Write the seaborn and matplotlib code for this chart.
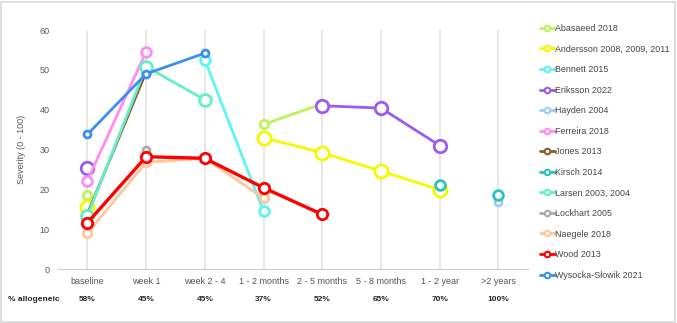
import numpy as np
import pandas as pd
import matplotlib
matplotlib.use("Agg")
import matplotlib.pyplot as plt
from matplotlib.lines import Line2D
from matplotlib.patches import Rectangle
import seaborn as sns

# categories along the x axis
timepoints = ["baseline", "week 1", "week 2 - 4", "1 - 2 months", "2 - 5 months",
              "5 - 8 months", "1 - 2 year", ">2 years"]
allogeneic = ["58%", "45%", "45%", "37%", "52%", "65%", "70%", "100%"]

nan = np.nan
# severity (0 - 100) per study, one value per timepoint (nan = not reported)
abasaeed = [18.7, nan, nan, 36.3, 41.5, nan, nan, nan]
andersson = [15.6, nan, nan, 33.0, 29.2, 24.6, 19.9, nan]
bennett = [nan, nan, 52.5, 14.5, nan, nan, nan, nan]
eriksson = [25.3, nan, nan, nan, 41.0, 40.4, 31.0, nan]
hayden = [nan, nan, nan, nan, nan, nan, nan, 16.8]
ferreira = [22.2, 54.6, nan, nan, nan, nan, nan, nan]
jones = [13.8, 49.5, nan, nan, nan, nan, nan, nan]
kirsch = [nan, nan, nan, nan, nan, nan, 21.0, 18.6]
larsen = [13.3, 50.8, 42.5, nan, nan, nan, nan, nan]
lockhart = [nan, 29.8, nan, nan, nan, nan, nan, nan]
naegele = [9.0, 26.8, 27.8, 17.8, nan, nan, nan, nan]
wood = [11.6, 28.2, 27.8, 20.4, 13.7, nan, nan, nan]
wysocka = [33.8, 49.0, 54.2, nan, nan, nan, nan, nan]

studies = ["Abasaeed 2018", "Andersson 2008, 2009, 2011", "Bennett 2015", "Eriksson 2022",
           "Hayden 2004", "Ferreira 2018", "Jones 2013", "Kirsch 2014", "Larsen 2003, 2004",
           "Lockhart 2005", "Naegele 2018", "Wood 2013", "Wysocka-Słowik 2021"]
series = [abasaeed, andersson, bennett, eriksson, hayden, ferreira, jones, kirsch,
          larsen, lockhart, naegele, wood, wysocka]

# styles: colour, marker size, line width, whether points are joined
colors = ["#bdf25a", "#f7f700", "#5ef4f4", "#9a5cf0", "#a0c8fa", "#ff8cf0", "#8a5a2c",
          "#26c4c0", "#62f0c4", "#aaaaaa", "#ffc69c", "#ff0000", "#3a8ff0"]
msizes = [6, 9.5, 7, 9, 5, 7, 5.5, 7, 8.5, 5, 6, 7.5, 5]
lwidths = [2, 2, 2, 2, 2, 2, 2, 2, 2, 2, 2, 2.4, 2]
joined = [True] * 7 + [False] + [True] * 5

# long table, with a run id so gaps are not bridged
rows = []
for name, vals, jn in zip(studies, series, joined):
    run = 0
    for i, v in enumerate(vals):
        if np.isnan(v):
            run += 1
            continue
        rows.append({"study": name, "pos": i, "severity": v, "run": run})
        if not jn:
            run += 1
df = pd.DataFrame(rows)

sns.set_style("white")
plt.rcParams["font.family"] = ["Liberation Sans", "DejaVu Sans"]

fig = plt.figure(figsize=(6.77, 3.23), dpi=100)
ax = fig.add_axes([0.0857, 0.167, 0.694, 0.74])

for x in range(len(timepoints)):
    ax.axvline(x, color="#e3e3e3", lw=1.2, zorder=0)

for name, c, ms, lw in zip(studies, colors, msizes, lwidths):
    sub = df[df["study"] == name]
    sns.lineplot(data=sub, x="pos", y="severity", units="run", estimator=None,
                 color=c, lw=lw, marker="o", markersize=ms, markerfacecolor="white",
                 markeredgecolor=c, markeredgewidth=2, ax=ax, legend=False,
                 sort=False)

ax.set_xlim(-0.5, 7.5)
ax.set_ylim(0, 60)
ax.set_yticks(range(0, 61, 10))
ax.set_xticks(range(len(timepoints)))
ax.set_xticklabels(timepoints)
ax.tick_params(axis="both", length=0, labelsize=6.5, colors="#555555", pad=6)
ax.set_xlabel("")
ax.set_ylabel("Severity (0 - 100)", fontsize=6.5, color="#555555", labelpad=10)
for s in ["top", "right", "left"]:
    ax.spines[s].set_visible(False)
ax.spines["bottom"].set_color("#cccccc")

# % allogeneic row under the axis
ytext = 0.072
fig.text(0.012, ytext, "% allogeneic", fontsize=6, fontweight="bold", va="center")
for i, p in enumerate(allogeneic):
    xf = fig.transFigure.inverted().transform(ax.transData.transform((i, 0)))[0]
    fig.text(xf, ytext, p, fontsize=6, fontweight="bold", ha="center", va="center")

handles = [Line2D([0], [0], color=c, lw=2, marker="o", markersize=4,
                  markerfacecolor="white", markeredgecolor=c, markeredgewidth=1.5)
           for c in colors]
fig.legend(handles, studies, loc="upper left", bbox_to_anchor=(0.788, 0.945),
           frameon=False, fontsize=6.4, labelspacing=1.3, handlelength=1.7,
           handletextpad=0.05, borderpad=0.2, labelcolor="#444444")

fig.patches.append(Rectangle((0.002, 0.004), 0.995, 0.99, transform=fig.transFigure,
                             fill=False, edgecolor="#d8d8d8", lw=1.2))

fig.savefig("out.png", dpi=100)
